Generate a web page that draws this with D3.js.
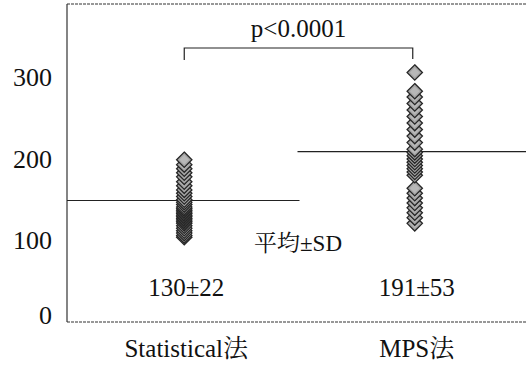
<!DOCTYPE html>
<html>
<head>
<meta charset="utf-8">
<script src="https://cdn.jsdelivr.net/npm/d3@7/dist/d3.min.js"></script>
</head>
<body style="margin:0">
<svg id="chart" width="526" height="366" style="font-family:'Tinos'"></svg>
<script>
// Method categories
const categories = ["Statistical法", "MPS法"];

// Individual measurements per method
const statisticalValues = [199, 193, 188, 183, 178, 172, 167, 162, 158, 154, 150, 147, 144, 141,
  139, 137, 135, 133, 131, 129, 127, 125, 123, 121, 118, 115, 112, 109, 106, 104];
const mpsValues = [306, 283, 276, 268, 260, 252, 244, 236, 228, 220, 212, 208, 204, 200, 196,
  192, 188, 184, 180, 164, 158, 152, 146, 140, 134, 128, 121];

// Horizontal reference line level for each group
const groupLines = [149, 209];

// Summary labels (mean ± SD)
const summaryLabels = ["130±22", "191±53"];
const legendLabel = "平均±SD";
const pLabel = "p<0.0001";

// Y axis ticks
const yTicks = [0, 100, 200, 300];

// Writes a label as serif text, giving CJK runs a Mincho-style face
function setLabel(sel, str, size) {
  sel.text(null).style("font-size", size + "px").attr("fill", "#111");
  const parts = str.match(/[\u3000-\u9fff]+|[^\u3000-\u9fff]+/g) || [];
  parts.forEach(p => {
    const cjk = /[\u3000-\u9fff]/.test(p);
    sel.append("tspan")
      .style("font-family", cjk ? "'Noto Serif CJK JP'" : "'Tinos'")
      .text(p);
  });
}

const svg = d3.select("#chart");
const margin = { left: 67, top: 4, right: 0, bottom: 44 };
const W = 526, H = 366;

const x = d3.scaleBand().domain(categories).range([69, 530]).padding(0);
const y = d3.scaleLinear().domain([0, 390]).range([H - margin.bottom, margin.top]);

// Frame: left axis, top edge, bottom axis
const frame = svg.append("g").attr("stroke", "#333").attr("stroke-width", 1.2).attr("fill", "none");
frame.append("line").attr("x1", margin.left).attr("x2", margin.left).attr("y1", y(390)).attr("y2", y(0));
frame.append("line").attr("x1", margin.left).attr("x2", W).attr("y1", y(390)).attr("y2", y(390))
  .attr("stroke-dasharray", "3,1");
frame.append("line").attr("x1", margin.left).attr("x2", W).attr("y1", y(0)).attr("y2", y(0))
  .attr("stroke-dasharray", "3,1");

// Y axis labels
const yAxis = svg.append("g")
  .attr("transform", `translate(${margin.left},0)`)
  .call(d3.axisLeft(y).tickValues(yTicks).tickSize(0).tickPadding(15).tickFormat(d3.format("d")));
yAxis.select(".domain").remove();
yAxis.attr("font-family", null).attr("font-size", null);
yAxis.selectAll("text")
  .each(function (d) { setLabel(d3.select(this), String(d), 26); })
  .attr("dy", d => d === 0 ? "0.05em" : "0.32em");

// X category labels
svg.append("g").selectAll("text").data(categories).join("text")
  .attr("x", d => x(d) + x.bandwidth() / 2 + 2)
  .attr("y", 357)
  .attr("text-anchor", "middle")
  .each(function (d) { setLabel(d3.select(this), d, 25); });

// Group reference lines spanning each band
svg.append("g").selectAll("line").data(categories).join("line")
  .attr("x1", (d, i) => i === 0 ? margin.left : x(d) - 2)
  .attr("x2", (d, i) => i === 0 ? x(d) + x.bandwidth() : W)
  .attr("y1", (d, i) => y(groupLines[i]))
  .attr("y2", (d, i) => y(groupLines[i]))
  .attr("stroke", "#222")
  .attr("stroke-width", 1.2);

// Diamond markers, lowest drawn first so upper ones overlap
const diamond = d3.symbol().type(d3.symbolDiamond2).size(150);
const inner = d3.symbol().type(d3.symbolDiamond2).size(60);
const groups = [statisticalValues, mpsValues];
groups.forEach((vals, i) => {
  const cx = x(categories[i]) + x.bandwidth() / 2;
  const sorted = vals.slice().sort((a, b) => a - b);
  const g = svg.append("g").selectAll("g").data(sorted).join("g")
    .attr("transform", d => `translate(${cx},${y(d)})`);
  g.append("path")
    .attr("d", diamond)
    .attr("fill", "#a4a4a4")
    .attr("stroke", "#262626")
    .attr("stroke-width", 1.3);
  g.append("path")
    .attr("d", inner)
    .attr("fill", "#b8b8b8")
    .attr("stroke", "none");
});

// Summary text under each group
svg.append("g").selectAll("text").data(categories).join("text")
  .attr("x", d => x(d) + x.bandwidth() / 2 + 2)
  .attr("y", 296)
  .attr("text-anchor", "middle")
  .each(function (d, i) { setLabel(d3.select(this), summaryLabels[i], 25); });

svg.append("text")
  .attr("x", 298)
  .attr("y", 251)
  .attr("text-anchor", "middle")
  .call(s => setLabel(s, legendLabel, 23));

// Significance bracket
const bx1 = x(categories[0]) + x.bandwidth() / 2;
const bx2 = x(categories[1]) + x.bandwidth() / 2 - 2;
const by = 48;
svg.append("path")
  .attr("d", `M${bx1},60V${by}H${bx2}V59`)
  .attr("fill", "none")
  .attr("stroke", "#222")
  .attr("stroke-width", 1.2);
svg.append("text")
  .attr("x", (bx1 + bx2) / 2)
  .attr("y", 37)
  .attr("text-anchor", "middle")
  .call(s => setLabel(s, pLabel, 25));
</script>
</body>
</html>
